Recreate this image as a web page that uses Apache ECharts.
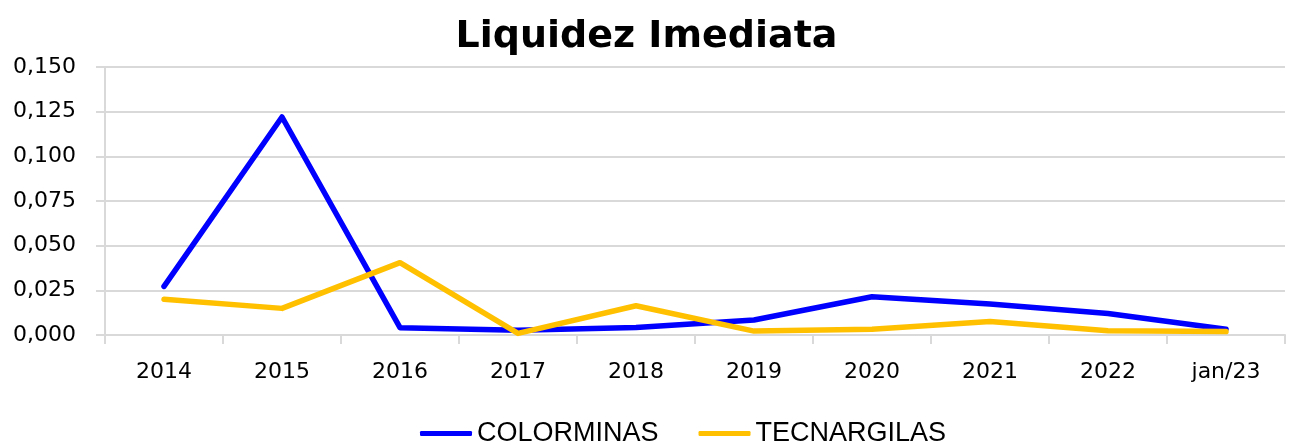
<!DOCTYPE html>
<html>
<head>
<meta charset="utf-8">
<script src="https://cdn.jsdelivr.net/npm/echarts@6/dist/echarts.min.js"></script>
<style>
  html, body { margin: 0; padding: 0; background: #fff; }
  #chart { width: 1293px; height: 442px; }
</style>
</head>
<body>
<div id="chart"></div>
<script>
// dados
const categories = ['2014', '2015', '2016', '2017', '2018', '2019', '2020', '2021', '2022', 'jan/23']
const colorminas = [0.0272, 0.122, 0.0041, 0.0026, 0.0042, 0.0084, 0.0214, 0.0174, 0.0120, 0.0032]
const tecnargilas = [0.0200, 0.0149, 0.0405, 0.0009, 0.0164, 0.0022, 0.0032, 0.0075, 0.0024, 0.0019]

const gridColor = '#d9d9d9'
const axisFont = 'DejaVu Sans'

const chart = echarts.init(document.getElementById('chart'))

const option = {
  animation: false,
  title: {
    text: 'Liquidez Imediata',
    left: 'center',
    top: 13,
    textStyle: {
      fontFamily: axisFont,
      fontWeight: 'bold',
      fontSize: 38,
      color: '#000'
    }
  },
  grid: {
    left: 105,
    right: 8,
    top: 67,
    bottom: 107
  },
  legend: {
    top: 415,
    left: 415,
    itemWidth: 52,
    itemHeight: 5,
    itemGap: 40,
    icon: 'roundRect',
    textStyle: {
      fontFamily: 'Liberation Sans',
      fontSize: 27,
      color: '#000'
    }
  },
  xAxis: {
    type: 'category',
    data: categories,
    boundaryGap: true,
    axisLine: { lineStyle: { color: gridColor, width: 2 } },
    axisTick: { show: true, length: 9, lineStyle: { color: gridColor, width: 2 } },
    axisLabel: {
      fontFamily: axisFont,
      fontSize: 22,
      color: '#000',
      margin: 26
    }
  },
  yAxis: {
    type: 'value',
    min: 0,
    max: 0.15,
    interval: 0.025,
    axisLine: { show: true, lineStyle: { color: gridColor, width: 2 } },
    axisTick: { show: true, length: 9, lineStyle: { color: gridColor, width: 2 } },
    splitLine: { lineStyle: { color: gridColor, width: 2 } },
    axisLabel: {
      fontFamily: axisFont,
      fontSize: 22,
      color: '#000',
      margin: 29,
      formatter: v => v.toFixed(3).replace('.', ',')
    }
  },
  series: [
    {
      name: 'COLORMINAS',
      type: 'line',
      data: colorminas,
      symbol: 'none',
      color: '#0000ff',
      lineStyle: { width: 5.5, cap: 'round', join: 'round' }
    },
    {
      name: 'TECNARGILAS',
      type: 'line',
      data: tecnargilas,
      symbol: 'none',
      color: '#ffc000',
      lineStyle: { width: 5.5, cap: 'round', join: 'round' }
    }
  ]
}

chart.setOption(option)

window.addEventListener('resize', () => {
  chart.resize()
})
</script>
</body>
</html>
